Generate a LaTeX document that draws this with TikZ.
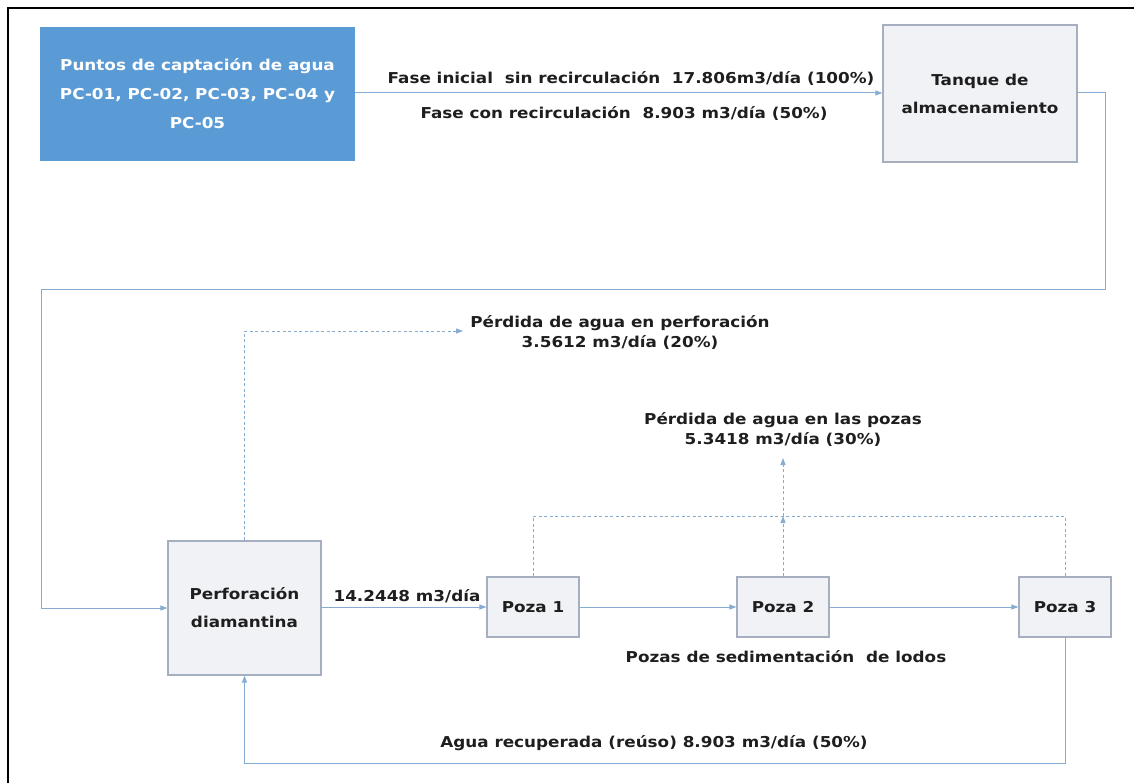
\documentclass[tikz,border=0pt]{standalone}
\usepackage{fontspec}
\setmainfont[FakeStretch=1.12]{DejaVu Sans}
\usetikzlibrary{arrows.meta}
\definecolor{pcblue}{RGB}{91,155,213}
\definecolor{boxfill}{RGB}{241,242,246}
\definecolor{boxline}{RGB}{165,175,192}
\definecolor{conn}{RGB}{135,172,210}
\definecolor{txt}{RGB}{30,30,30}
\begin{document}
\begin{tikzpicture}[x=1pt,y=-1pt,
  lbl/.style={font=\fontsize{15}{20}\selectfont\bfseries, text=txt, inner sep=0pt, align=center},
  graybox/.style={draw=boxline, fill=boxfill, line width=1.2pt, align=center, inner sep=0pt,
    font=\fontsize{15}{28}\selectfont\bfseries, text=txt},
  pozabox/.style={graybox, minimum width=92pt, minimum height=60pt},
  tipp/.style={-{Triangle[length=7pt,width=5pt]}},
  flow/.style={draw=conn, line width=1pt},
  lossline/.style={draw=conn, line width=0.9pt, dash pattern=on 3pt off 2.5pt}]
\useasboundingbox (0,0) rectangle (1134,783);
\draw[line width=2pt] (8,783) -- (8,8) -- (1134,8);

% boxes
\node[fill=pcblue, text=white, minimum width=315pt, minimum height=134pt, inner sep=0pt,
  align=center, font=\fontsize{15}{29}\selectfont\bfseries] (pc) at (197.5,94)
  {Puntos de captación de agua\\PC-01, PC-02, PC-03, PC-04 y\\PC-05};
\node[graybox, minimum width=194pt, minimum height=137pt] (tank) at (980,93.5)
  {Tanque de\\almacenamiento};
\node[graybox, minimum width=153pt, minimum height=134pt] (perf) at (244.5,608)
  {Perforación\\diamantina};
\node[pozabox] (p1) at (533,607) {Poza 1};
\node[pozabox] (p2) at (783,607) {Poza 2};
\node[pozabox] (p3) at (1065,607) {Poza 3};

% labels
\node[lbl] (lbl1) at (631,78) {Fase inicial\ \ sin recirculación\ \ 17.806m3/día (100\%)};
\node[lbl] (lbl2) at (624,113) {Fase con recirculación\ \ 8.903 m3/día (50\%)};
\node[lbl] (lp) at (620,332) {Pérdida de agua en perforación\\3.5612 m3/día (20\%)};
\node[lbl] (lpz) at (783,429) {Pérdida de agua en las pozas\\5.3418 m3/día (30\%)};
\node[lbl] (lf) at (407,596) {14.2448 m3/día};
\node[lbl] (ls) at (786,657) {Pozas de sedimentación\ \ de lodos};
\node[lbl] (lr) at (654,743) {Agua recuperada (reúso) 8.903 m3/día (50\%)};

% coordinates
\coordinate (r1) at (1105,290);
\coordinate (r2) at (41,290);
\coordinate (b2) at (244.5,763);
\coordinate (l1) at (463,331);
\coordinate (d1) at (533,516);
\coordinate (d3) at (1065,516);
\coordinate (j) at (783,516);
\coordinate (up) at (783,458);

% connectors
\draw[flow, tipp] (pc.east |- 0,93) -- (tank.west |- 0,93);
\draw[flow, tipp] (tank.east |- 0,93) -| (r1) -- (r2) |- (perf.west);
\draw[flow, tipp] (perf.east |- 0,607) -- (p1.west);
\draw[flow, tipp] (p1.east) -- (p2.west);
\draw[flow, tipp] (p2.east) -- (p3.west);
\draw[flow, tipp] (p3.south) |- (b2) -- (perf.south);
\draw[lossline, tipp] (perf.north) |- (l1);
\draw[lossline] (p1.north) -- (d1) -- (d3) -- (p3.north);
\draw[lossline, tipp] (p2.north) -- (j);
\draw[lossline, tipp] (j) -- (up);
\end{tikzpicture}
\end{document}
